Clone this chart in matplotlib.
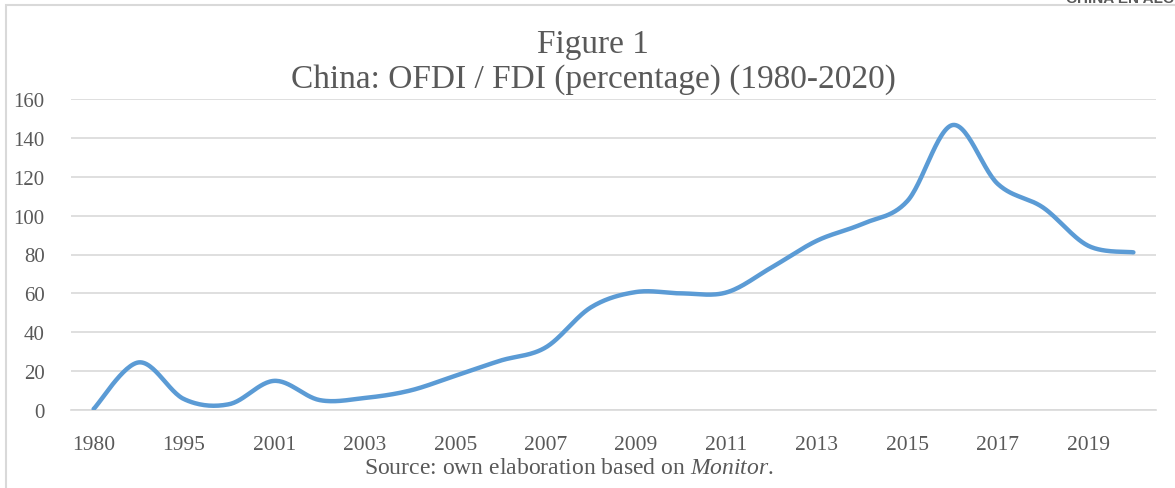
import matplotlib.pyplot as plt
import numpy as np
from matplotlib.patches import Rectangle

# values
years = ["1980", "1990", "1995", "2000", "2001", "2002", "2003", "2004",
         "2005", "2006", "2007", "2008", "2009", "2010", "2011", "2012",
         "2013", "2014", "2015", "2016", "2017", "2018", "2019", "2020"]
ofdi_fdi = [0.5, 24.5, 5.6, 3.0, 15.0, 5.1, 6.2, 10.0,
            17.6, 25.4, 32.2, 52.8, 60.7, 60.0, 60.5, 73.4,
            87.1, 95.7, 107.5, 146.6, 116.3, 104.2, 84.5, 81.1]
y_ticks = [0, 20, 40, 60, 80, 100, 120, 140, 160]

W, H = 1175, 489
TXT = "#595959"
GRID = "#D9D9D9"
BLUE = "#5B9BD5"
SERIF = "Liberation Serif"

plt.rcParams["mathtext.fontset"] = "custom"
plt.rcParams["mathtext.rm"] = "Liberation Serif"
plt.rcParams["mathtext.it"] = "Liberation Serif:italic"


def smooth(xs, ys, n=30):
    # Bezier segments with Catmull-Rom control points (Excel-like smoothed line)
    pts = np.column_stack([xs, ys]).astype(float)
    padded = np.vstack([pts[0], pts, pts[-1]])
    t = np.linspace(0, 1, n)[:, None]
    out = []
    for i in range(len(pts) - 1):
        p0, p3 = pts[i], pts[i + 1]
        p1 = p0 + (padded[i + 2] - padded[i]) / 6
        p2 = p3 - (padded[i + 3] - padded[i + 1]) / 6
        seg = (1 - t) ** 3 * p0 + 3 * (1 - t) ** 2 * t * p1 + 3 * (1 - t) * t ** 2 * p2 + t ** 3 * p3
        out.append(seg if i == 0 else seg[1:])
    out = np.vstack(out)
    return out[:, 0], out[:, 1]


fig = plt.figure(figsize=(W / 100, H / 100), dpi=100)
ax = fig.add_axes([71 / W, 1 - 411 / H, (1156 - 71) / W, (411 - 100) / H])

x = np.arange(len(years))
sx, sy = smooth(x, ofdi_fdi)
ax.plot(sx, sy, color=BLUE, lw=3.2, solid_capstyle="round", zorder=3)

ax.set_xlim(-0.5, len(years) - 0.5)
ax.set_ylim(0, 160)
ax.set_yticks(y_ticks)
ax.set_yticklabels([str(v) for v in y_ticks], family=SERIF, fontsize=15, color=TXT)
ax.set_xticks(x[::2])
ax.set_xticklabels(years[::2], family=SERIF, fontsize=15.5, color=TXT)
ax.tick_params(axis="y", length=0, pad=19)
ax.tick_params(axis="x", length=0, pad=18)
ax.grid(axis="y", color=GRID, lw=1.2)
ax.set_axisbelow(True)
for s in ["top", "right", "left"]:
    ax.spines[s].set_visible(False)
ax.spines["bottom"].set_color(GRID)
ax.spines["bottom"].set_linewidth(1.2)

fig.text(593 / W, 1 - 53 / H, "Figure 1", family=SERIF, fontsize=24,
         color=TXT, ha="center", va="baseline")
fig.text(593 / W, 1 - 88 / H, "China: OFDI / FDI (percentage) (1980-2020)",
         family=SERIF, fontsize=24, color=TXT, ha="center", va="baseline")
fig.text(569 / W, 1 - 474 / H, "Source: own elaboration based on $\\mathit{Monitor}$.",
         family=SERIF, fontsize=17, color=TXT, ha="center", va="baseline")

# chart frame and the cropped page header
fig.patches.append(Rectangle((6 / W, -0.1), 1.2, 1.1 - 6 / H, transform=fig.transFigure,
                             fill=False, ec=GRID, lw=1.5))
fig.text(1066 / W, 1 - 3 / H, "CHINA EN ALC", family="Liberation Sans", weight="bold",
         fontsize=11, color=TXT, va="baseline")

fig.savefig("out.png", dpi=100)
